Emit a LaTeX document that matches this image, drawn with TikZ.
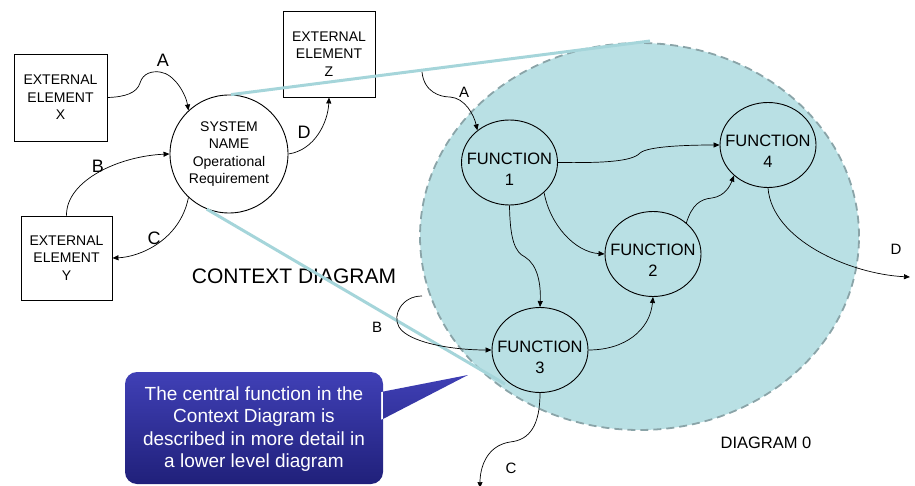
\documentclass[tikz,border=0pt]{standalone}
\usepackage{fontspec}
\setmainfont{Liberation Sans}
\usetikzlibrary{shapes.geometric,arrows.meta,calc}
\definecolor{diagfill}{RGB}{185,224,228}
\definecolor{diagedge}{RGB}{138,164,168}
\definecolor{cyanline}{RGB}{165,213,218}
\definecolor{calltop}{RGB}{64,64,182}
\definecolor{callbot}{RGB}{32,32,122}
\definecolor{calledge}{RGB}{40,40,140}
\begin{document}
\begin{tikzpicture}[x=1pt,y=-1pt,
  ext/.style={draw, line width=0.9pt, align=center, inner sep=0pt,
    font=\fontsize{14}{17.5}\selectfont},
  sysnode/.style={draw, circle, line width=0.9pt, minimum size=118pt, inner sep=0pt,
    align=center, font=\fontsize{14}{17.5}\selectfont},
  fn/.style={draw, ellipse, line width=0.9pt, minimum width=96pt, minimum height=85pt, inner sep=0pt},
  fnlabel/.style={align=center, inner sep=0pt, font=\fontsize{16.5}{21}\selectfont},
  flow/.style={-{Triangle[length=6pt,width=5pt]}, line width=0.7pt},
  biglab/.style={inner sep=0pt, font=\fontsize{18}{20}\selectfont},
  smalllab/.style={inner sep=0pt, font=\fontsize{15}{18}\selectfont},
  title/.style={inner sep=0pt},
  zoomline/.style={draw=cyanline, line width=3pt}
]
\useasboundingbox (0,0) rectangle (915,486);

% Diagram 0 background
\node[draw=diagedge, fill=diagfill, ellipse, dashed, dash pattern=on 8pt off 5pt,
  line width=1.8pt, minimum width=439pt, minimum height=387pt, inner sep=0pt] (d0) at (639.5,236.5) {};

% Titles (under the zoom lines)
\node[title, font=\fontsize{21}{24}\selectfont] (ctx) at (294,276) {CONTEXT DIAGRAM};
\node[title, font=\fontsize{16.5}{20}\selectfont] (d0t) at (766,443) {DIAGRAM 0};

% Context diagram
\node[ext, minimum width=93pt, minimum height=87pt] (X) at (60.5,97.5) {EXTERNAL\\ELEMENT\\X};
\node[ext, minimum width=92pt, minimum height=86pt] (Z) at (329,54) {EXTERNAL\\ELEMENT\\Z};
\node[ext, minimum width=91pt, minimum height=84pt] (Y) at (66.5,258) {EXTERNAL\\ELEMENT\\Y};
\node[sysnode] (sys) at (229,154) {SYSTEM\\NAME\\Operational\\Requirement};

% zoom lines
\coordinate (zt) at (650,41);
\coordinate (zb) at (505,384);
\draw[zoomline] (sys.88) -- (zt);
\draw[zoomline] (sys.248) -- (zb);

\draw[flow] (X.east) .. controls (125,97) and (137,93) .. (140,83)
  .. controls (143,73) and (152,71) .. (160,72)
  .. controls (175,74) and (186,95) .. (sys.133);
\draw[flow] (Y.north) .. controls (66,180) and (120,156) .. (sys.180);
\draw[flow] (sys.227) .. controls (180,240) and (140,257) .. (Y.east);
\draw[flow] (sys.east) .. controls (315,150) and (328,122) .. (Z.south);

\node[biglab] (lA) at (163,60) {A};
\node[biglab] (lB) at (98,166) {B};
\node[biglab] (lC) at (154,238) {C};
\node[biglab] (lD) at (304,132) {D};

% Functions
\node[fn] (f1) at (509.5,162.5) {};
\node[fn] (f4) at (768,145) {};
\node[fn] (f2) at (653,254) {};
\node[fn] (f3) at (540,350) {};
\node[fnlabel] (t1) at (509.5,169) {FUNCTION\\1};
\node[fnlabel] (t4) at (768,151) {FUNCTION\\4};
\node[fnlabel] (t2) at (653,260) {FUNCTION\\2};
\node[fnlabel] (t3) at (540,357) {FUNCTION\\3};

\coordinate (aA) at (422,72);
\coordinate (bB) at (422,296);
\coordinate (cC) at (480,488);
\coordinate (dD) at (910,277);

\draw[flow] (aA) .. controls (424,92) and (440,97) .. (450,97)
  .. controls (465,98) and (474,115) .. (f1.135);
\draw[flow] (f1.east) .. controls (600,163) and (632,162) .. (640,153)
  .. controls (648,146) and (690,145) .. (f4.west);
\draw[flow] (f1.-41) .. controls (550,225) and (575,252) .. (f2.west);
\draw[flow] (f1.south) .. controls (510,240) and (515,252) .. (525,257)
  .. controls (538,265) and (541,285) .. (f3.north);
\draw[flow] (f2.43) .. controls (692,205) and (700,199) .. (712,198)
  .. controls (725,196) and (730,186) .. (f4.222);
\draw[flow] (f4.south) .. controls (772,240) and (850,274) .. (dD);
\draw[flow] (bB) .. controls (402,296) and (392,315) .. (399,327)
  .. controls (408,342) and (450,350) .. (f3.west);
\draw[flow] (f3.east) .. controls (625,350) and (650,330) .. (f2.south);
\draw[flow] (f3.south) .. controls (540,425) and (530,440) .. (510,442)
  .. controls (485,446) and (480,470) .. (cC);

\node[smalllab] (la) at (464,92) {A};
\node[smalllab] (lb) at (377,327) {B};
\node[smalllab] (lc) at (511,468) {C};
\node[smalllab] (ld) at (896,249) {D};

% Callout
\shade[top color=calltop, bottom color=callbot]
  [rounded corners=12pt] (125,372) rectangle (383,484)
  [sharp corners] (381,392) -- (468,375) -- (381,420) -- cycle;
\node[align=center, text=white, inner sep=0pt, font=\fontsize{19}{22.5}\selectfont] (callout) at (254,429)
  {The central function in the\\Context Diagram is\\described in more detail in\\a lower level diagram};
\end{tikzpicture}
\end{document}
